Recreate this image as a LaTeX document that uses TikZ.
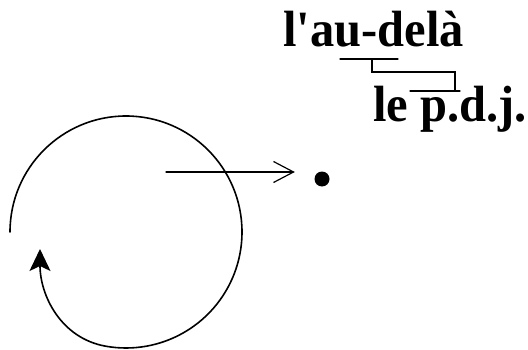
\documentclass[tikz,border=0pt]{standalone}
\usepackage{fontspec}
\setmainfont{Liberation Serif}
\usetikzlibrary{arrows.meta,positioning,calc}

\begin{document}
\begin{tikzpicture}[x=1pt,y=1pt,line cap=round,
    word/.style={inner sep=0pt,anchor=base west,yscale=1.05,transform shape,
      font=\fontsize{48.5}{50}\selectfont\bfseries},
    brack/.style={line width=1.1pt}]
  \useasboundingbox (0,0) rectangle (528,349);
  % the two words and the bracket between them
  \node[word] (beyond) at (283,302.3) {l\textquotesingle au-delà};
  \node[word] (pdj) at (373,227) {le p.d.j.};
  \coordinate (b1) at (340,290);
  \coordinate (b2) at (398,290);
  \coordinate (b3) at (372,290);
  \coordinate (b4) at (372,277);
  \coordinate (b5) at (455,277);
  \coordinate (b6) at (455,258);
  \coordinate (b7) at (410,258);
  \coordinate (b8) at (460,258);
  \draw[brack] (b1) -- (b2);
  \draw[brack] (b3) -- (b4) -- (b5) -- (b6);
  \draw[brack] (b7) -- (b8);
  % the circle and the dot
  \node[circle,fill,inner sep=0pt,minimum size=15pt] (dot) at (322,170) {};
  \coordinate (src) at (166,177);
  \draw[line width=1.2pt,-{Straight Barb[length=20pt,width=21pt,line width=1.2pt]}]
    (src) -- ($(src -| dot.west)+(-19.5,0)$);
  \coordinate (start) at (10,117);
  \coordinate (tip) at (40,100);
  \draw[line width=1.6pt,-{Stealth[length=22pt,width=21pt,inset=5pt]}]
    (start) arc[start angle=180,end angle=-100,radius=116]
    to[out=170,in=-90] (tip);
\end{tikzpicture}
\end{document}
